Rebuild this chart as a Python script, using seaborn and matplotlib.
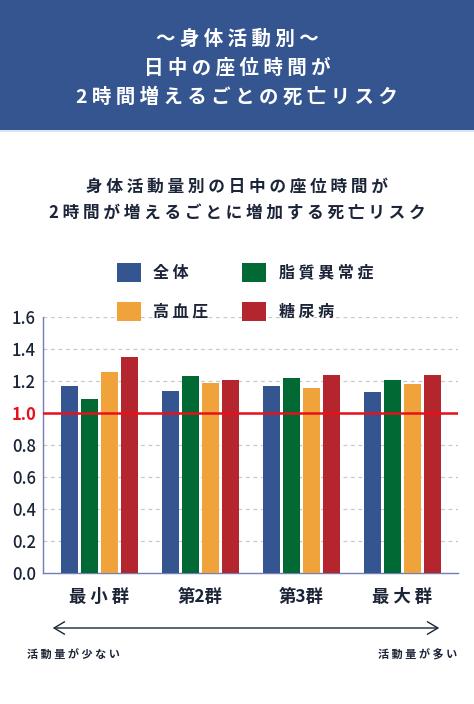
import numpy as np
import pandas as pd
import matplotlib
matplotlib.use('Agg')
import matplotlib.pyplot as plt
import seaborn as sns
from matplotlib.patches import Rectangle, FancyArrowPatch

# データ
groups = ['最小群', '第2群', '第3群', '最大群']
series = ['全体', '脂質異常症', '高血圧', '糖尿病']
zentai = [1.17, 1.14, 1.17, 1.13]
shishitsu = [1.09, 1.23, 1.22, 1.21]
kouketsuatsu = [1.26, 1.19, 1.16, 1.18]
tounyou = [1.35, 1.21, 1.24, 1.24]
yticks = [0.0, 0.2, 0.4, 0.6, 0.8, 1.0, 1.2, 1.4, 1.6]

colors = ['#34558f', '#006934', '#f0a33a', '#b5252e']
navy = '#1c2538'

df = pd.DataFrame({'群': groups * 4,
                   '疾患': np.repeat(series, 4),
                   'リスク': zentai + shishitsu + kouketsuatsu + tounyou})

sns.set_style('white')
plt.rcParams['font.family'] = ['Noto Sans CJK JP', 'DejaVu Sans']

def spaced(s):
    return ' '.join(s)

def spaced_cjk(s):
    # 数字の前後には空白を入れない
    out = s[0]
    for a, b in zip(s, s[1:]):
        if not (a.isascii() or b.isascii()):
            out += ' '
        out += b
    return out

fig = plt.figure(figsize=(4.74, 7.04), dpi=100)

# ヘッダー
fig.patches.append(Rectangle((0, 1 - 130 / 704), 1, 130 / 704, transform=fig.transFigure,
                             facecolor='#34558f', edgecolor='none', zorder=0))
fig.patches.append(Rectangle((0, 1 - 132 / 704), 1, 2 / 704, transform=fig.transFigure,
                             facecolor='#d6e6f5', edgecolor='none', zorder=0))
for txt, y in [('～身体活動別～', 39), ('日中の座位時間が', 68), ('2時間増えるごとの死亡リスク', 97)]:
    fig.text(0.5, 1 - y / 704, spaced(txt), ha='center', va='center', color='white',
             fontsize=14, fontweight='bold')

for txt, y in [('身体活動量別の日中の座位時間が', 187), ('2時間が増えるごとに増加する死亡リスク', 214)]:
    fig.text(0.5, 1 - y / 704, spaced(txt), ha='center', va='center', color=navy,
             fontsize=12, fontweight='bold')

ax = fig.add_axes([43 / 474, 1 - 572.7 / 704, 415 / 474, 255.4 / 704])
sns.barplot(data=df, x='群', y='リスク', hue='疾患', palette=colors, width=0.8, gap=0.15,
            linewidth=0, saturation=1, ax=ax, zorder=3)

ax.set_ylim(0, 1.6)
ax.set_xlim(-0.56, 3.55)
ax.set_yticks(yticks)
ax.set_yticklabels([f'{v:.1f}' for v in yticks])
ax.set_xticks(range(len(groups)))
ax.set_xticklabels([spaced_cjk(g) for g in groups])
ax.set_xlabel('')
ax.set_ylabel('')
for v in yticks[1:]:
    ax.axhline(v, color='#c8c8c8', lw=0.9, ls=(0, (3, 3)), zorder=1)
ax.axhline(1.0, color='#e8101a', lw=1.8, zorder=4)

for s in ['top', 'right']:
    ax.spines[s].set_visible(False)
for s in ['left', 'bottom']:
    ax.spines[s].set_color('#6f7fb8')
    ax.spines[s].set_linewidth(1.0)

ax.tick_params(axis='y', length=0, labelsize=12, labelcolor=navy, pad=5)
ax.tick_params(axis='x', length=0, labelsize=12.5, labelcolor=navy, pad=11)
for lab in ax.get_yticklabels():
    lab.set_fontweight('medium')
    if lab.get_text() == '1.0':
        lab.set_color('#e8101a')
        lab.set_fontweight('bold')
for lab in ax.get_xticklabels():
    lab.set_fontweight('bold')

# 凡例（1行目: 全体・脂質異常症、2行目: 高血圧・糖尿病）
handles, labels = ax.get_legend_handles_labels()
ax.legend_.remove()
order = [0, 2, 1, 3]
leg = fig.legend([handles[i] for i in order], [spaced(labels[i]) for i in order],
                 ncol=2, loc='center', bbox_to_anchor=(0.517, 1 - 292 / 704),
                 frameon=False, fontsize=11.5, handlelength=1.5, handleheight=1.5,
                 handletextpad=0.8, columnspacing=2.1, labelspacing=1.25)
for t in leg.get_texts():
    t.set_color(navy)
    t.set_fontweight('bold')

# 矢印
fig.add_artist(FancyArrowPatch((50 / 474, 1 - 628 / 704), (442 / 474, 1 - 628 / 704),
               transform=fig.transFigure, arrowstyle='<->,head_length=5,head_width=3',
               color=navy, lw=1.0, mutation_scale=1.5))
fig.text(27 / 474, 1 - 655 / 704, spaced('活動量が少ない'), ha='left', va='center',
         color=navy, fontsize=8, fontweight='bold')
fig.text(457 / 474, 1 - 655 / 704, spaced('活動量が多い'), ha='right', va='center',
         color=navy, fontsize=8, fontweight='bold')

fig.savefig('out.png', dpi=100, facecolor='white')
